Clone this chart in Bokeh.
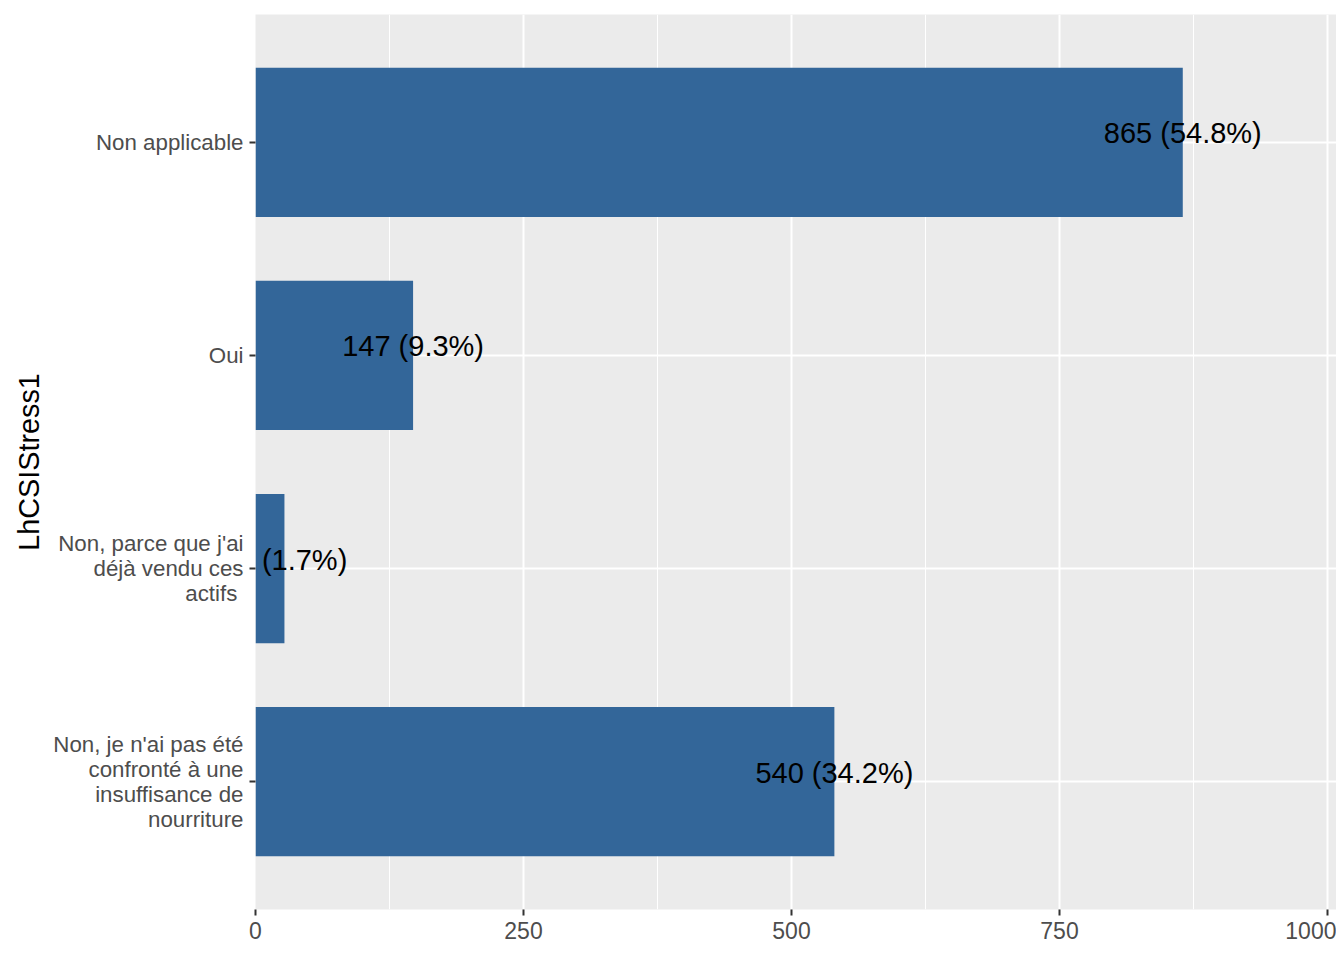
from bokeh.plotting import figure
from bokeh.models import ColumnDataSource, FactorRange, Range1d, FixedTicker
from bokeh.core.properties import value
from bokeh.embed import file_html
from bokeh.resources import INLINE

categories = [
    "Non applicable",
    "Oui",
    "Non, parce que j'ai\ndéjà vendu ces\nactifs ",
    "Non, je n'ai pas été\nconfronté à une\ninsuffisance de\nnourriture",
]
counts = [865, 147, 27, 540]
percents = ["54.8%", "9.3%", "1.7%", "34.2%"]
x_ticks = [0, 250, 500, 750, 1000]
x_minor = [125, 375, 625, 875]
y_title = "LhCSIStress1"

labels = [f"{c} ({p})" for c, p in zip(counts, percents)]
src = ColumnDataSource(dict(cat=categories, n=counts, label=labels))

FONT = "Liberation Sans"

p = figure(
    width=1336, height=952,
    y_range=FactorRange(factors=categories[::-1], range_padding=0.1,
                        range_padding_units="absolute"),
    x_range=Range1d(0, 1008.4),
    output_backend="svg", toolbar_location=None,
    min_border_left=255, min_border_right=0, min_border_top=14,
    min_border_bottom=43,
)
p.background_fill_color = "#EBEBEB"
p.border_fill_color = "white"
p.outline_line_color = None

p.hbar(y="cat", right="n", left=0, height=0.7, source=src,
       fill_color="#336699", line_color=None)
p.text(x="n", y="cat", text="label", source=src,
       text_font=value(FONT), text_font_size="29px", text_color="black",
       text_align="center", text_baseline="middle", y_offset=-9)

p.xaxis.ticker = FixedTicker(ticks=x_ticks, minor_ticks=x_minor)
p.xgrid.grid_line_color = "white"
p.xgrid.grid_line_width = 2
p.xgrid.minor_grid_line_color = "white"
p.xgrid.minor_grid_line_width = 1
p.ygrid.grid_line_color = "white"
p.ygrid.grid_line_width = 2

for ax in (p.xaxis, p.yaxis):
    ax.axis_line_color = None
    ax.major_tick_line_color = "#333333"
    ax.major_tick_line_width = 2
    ax.major_tick_out = 6
    ax.major_tick_in = 0
    ax.minor_tick_line_color = None
    ax.major_label_text_font = FONT
    ax.major_label_text_color = "#4D4D4D"

p.xaxis.major_label_text_font_size = "23px"
p.yaxis.major_label_text_font_size = "22.3px"
p.yaxis.major_label_text_line_height = 1.0

p.yaxis.axis_label = y_title
p.yaxis.axis_label_text_font = FONT
p.yaxis.axis_label_text_font_size = "28.8px"
p.yaxis.axis_label_text_font_style = "normal"
p.yaxis.axis_label_text_color = "black"
p.yaxis.major_label_standoff = 6
p.xaxis.major_label_standoff = 6

open("out.html", "w").write(file_html(p, INLINE))
